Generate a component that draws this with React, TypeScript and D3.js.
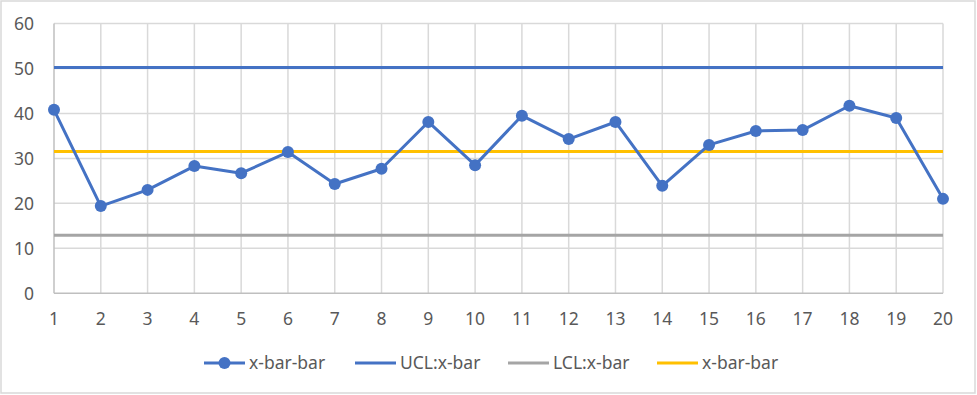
import { useRef, useEffect } from "react";
import * as d3 from "d3";

// chart values
const samples = [1, 2, 3, 4, 5, 6, 7, 8, 9, 10, 11, 12, 13, 14, 15, 16, 17, 18, 19, 20];
const xBar = [40.8, 19.4, 23.0, 28.3, 26.7, 31.4, 24.3, 27.7, 38.1, 28.5, 39.5, 34.3, 38.1, 23.9, 33.0, 36.1, 36.3, 41.7, 39.0, 21.0];
const ucl = [50.2, 50.2, 50.2, 50.2, 50.2, 50.2, 50.2, 50.2, 50.2, 50.2, 50.2, 50.2, 50.2, 50.2, 50.2, 50.2, 50.2, 50.2, 50.2, 50.2];
const lcl = [12.9, 12.9, 12.9, 12.9, 12.9, 12.9, 12.9, 12.9, 12.9, 12.9, 12.9, 12.9, 12.9, 12.9, 12.9, 12.9, 12.9, 12.9, 12.9, 12.9];
const xBarBar = [31.55, 31.55, 31.55, 31.55, 31.55, 31.55, 31.55, 31.55, 31.55, 31.55, 31.55, 31.55, 31.55, 31.55, 31.55, 31.55, 31.55, 31.55, 31.55, 31.55];
const yTicks = [0, 10, 20, 30, 40, 50, 60];
const legendLabels = ["x-bar-bar", "UCL:x-bar", "LCL:x-bar", "x-bar-bar"];

const W = 977;
const H = 395;
const FONT = "'Noto Sans', 'DejaVu Sans', sans-serif";
const FS = 17.5;

export default function App() {
  const svgRef = useRef<SVGSVGElement>(null);

  useEffect(() => {
    const svg = d3.select(svgRef.current);
    svg.selectAll("*").remove();

    const x = d3.scaleLinear().domain([1, 20]).range([54, 943]);
    const y = d3.scaleLinear().domain([0, 60]).range([293.3, 23.5]);

    // background + border
    svg
      .append("rect")
      .attr("x", 1)
      .attr("y", 1)
      .attr("width", W - 3)
      .attr("height", H - 3)
      .attr("fill", "#fff")
      .attr("stroke", "#d9d9d9")
      .attr("stroke-width", 1.5);

    // gridlines
    const grid = svg.append("g");
    grid
      .selectAll(".hg")
      .data(yTicks.filter((t) => t > 0))
      .join("line")
      .attr("x1", x(1))
      .attr("x2", x(20))
      .attr("y1", (d) => y(d))
      .attr("y2", (d) => y(d))
      .attr("stroke", "#d9d9d9")
      .attr("stroke-width", 1.5);
    grid
      .selectAll(".vg")
      .data(samples.slice(1))
      .join("line")
      .attr("x1", (d) => x(d))
      .attr("x2", (d) => x(d))
      .attr("y1", y(60))
      .attr("y2", y(0))
      .attr("stroke", "#d9d9d9")
      .attr("stroke-width", 1.5);

    // axis lines
    svg
      .append("line")
      .attr("x1", x(1))
      .attr("x2", x(1))
      .attr("y1", y(60))
      .attr("y2", y(0))
      .attr("stroke", "#bfbfbf")
      .attr("stroke-width", 1.5);
    svg
      .append("line")
      .attr("x1", x(1))
      .attr("x2", x(20))
      .attr("y1", y(0))
      .attr("y2", y(0))
      .attr("stroke", "#bfbfbf")
      .attr("stroke-width", 1.5);

    // tick labels
    svg
      .append("g")
      .selectAll("text")
      .data(yTicks)
      .join("text")
      .attr("x", 34)
      .attr("y", (d) => y(d))
      .attr("dy", "0.36em")
      .attr("text-anchor", "end")
      .attr("font-family", FONT)
      .attr("font-size", FS)
      .attr("fill", "#595959")
      .text((d) => d);
    svg
      .append("g")
      .selectAll("text")
      .data(samples)
      .join("text")
      .attr("x", (d) => x(d))
      .attr("y", 319)
      .attr("dy", "0.36em")
      .attr("text-anchor", "middle")
      .attr("font-family", FONT)
      .attr("font-size", FS)
      .attr("fill", "#595959")
      .text((d) => d);

    // series
    const lineGen = d3
      .line<number>()
      .x((d, i) => x(samples[i]))
      .y((d) => y(d));

    const series = [
      { data: ucl, color: "#4472C4" },
      { data: lcl, color: "#A5A5A5" },
      { data: xBarBar, color: "#FFC000" },
    ];
    series.forEach((s) => {
      svg
        .append("path")
        .attr("d", lineGen(s.data))
        .attr("fill", "none")
        .attr("stroke", s.color)
        .attr("stroke-width", 3);
    });

    svg
      .append("path")
      .attr("d", lineGen(xBar))
      .attr("fill", "none")
      .attr("stroke", "#4472C4")
      .attr("stroke-width", 3)
      .attr("stroke-linejoin", "round");
    svg
      .append("g")
      .selectAll("circle")
      .data(xBar)
      .join("circle")
      .attr("cx", (d, i) => x(samples[i]))
      .attr("cy", (d) => y(d))
      .attr("r", 6)
      .attr("fill", "#4472C4");

    // legend
    const legendColors = ["#4472C4", "#4472C4", "#A5A5A5", "#FFC000"];
    const legendX = [204, 355, 508, 657];
    const legend = svg.append("g");
    legendLabels.forEach((label, i) => {
      const lx = legendX[i];
      legend
        .append("line")
        .attr("x1", lx)
        .attr("x2", lx + 41)
        .attr("y1", 363)
        .attr("y2", 363)
        .attr("stroke", legendColors[i])
        .attr("stroke-width", 3);
      if (i === 0) {
        legend
          .append("circle")
          .attr("cx", lx + 20.5)
          .attr("cy", 363)
          .attr("r", 6)
          .attr("fill", legendColors[i]);
      }
      legend
        .append("text")
        .attr("x", lx + 45)
        .attr("y", 363)
        .attr("dy", "0.36em")
        .attr("font-family", FONT)
        .attr("font-size", FS)
        .attr("fill", "#595959")
        .text(label);
    });
  }, []);

  return (
    <svg
      ref={svgRef}
      width={W}
      height={H}
      style={{ position: "absolute", left: 0, top: 0 }}
    />
  );
}
